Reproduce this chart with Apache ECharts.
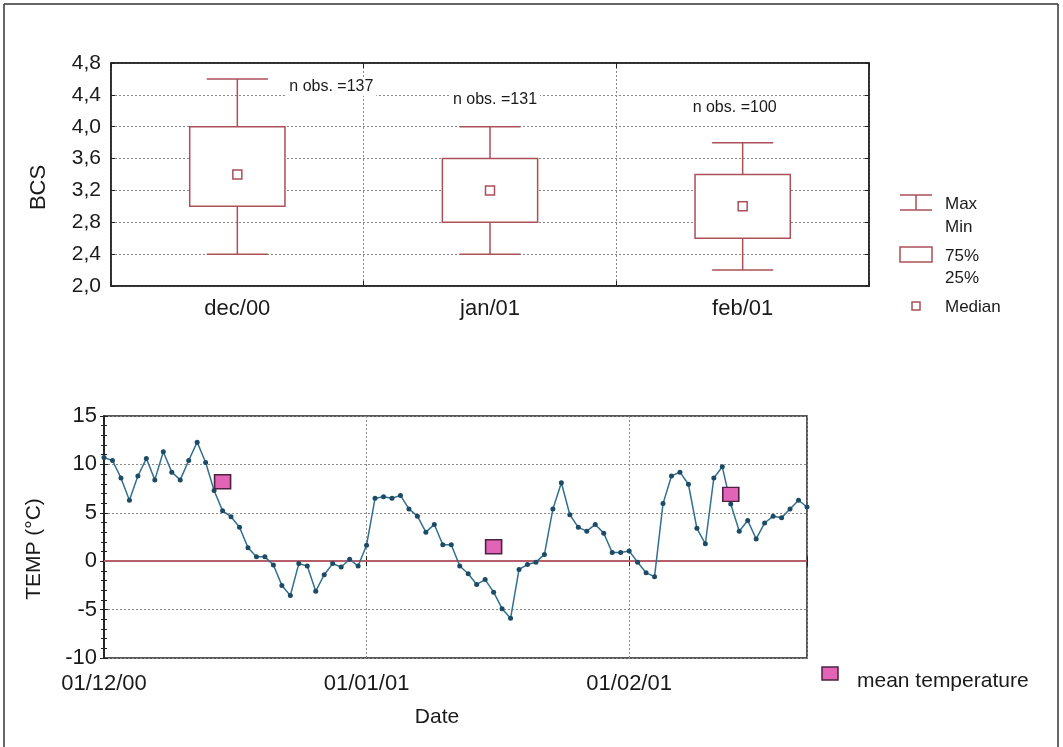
<!DOCTYPE html>
<html><head><meta charset="utf-8">
<script src="https://cdn.jsdelivr.net/npm/echarts@6/dist/echarts.min.js"></script>
<style>html,body{margin:0;padding:0;background:#fff}#chart{width:1063px;height:747px}</style>
</head><body><div id="chart"></div>
<script>
// ---------- data ----------
const monthCategories = ['dec/00', 'jan/01', 'feb/01'];
const bcsMin    = [2.4, 2.4, 2.2];
const bcsQ1     = [3.0, 2.8, 2.6];
const bcsMedian = [3.4, 3.2, 3.0];
const bcsQ3     = [4.0, 3.6, 3.4];
const bcsMax    = [4.6, 4.0, 3.8];
const nObs      = [137, 131, 100];

const dateTickLabels = ['01/12/00', '01/01/01', '01/02/01'];
// daily temperature, day 0 = 01/12/00 ... day 83 = 22/02/01
const dailyTemp = [
  10.7, 10.4, 8.6, 6.3, 8.8, 10.6, 8.4, 11.3, 9.2, 8.4,
  10.4, 12.3, 10.2, 7.3, 5.2, 4.6, 3.5, 1.4, 0.45, 0.45,
  -0.4, -2.5, -3.55, -0.25, -0.5, -3.1, -1.4, -0.25, -0.6, 0.2,
  -0.5, 1.65, 6.5, 6.65, 6.5, 6.8, 5.4, 4.65, 3.0, 3.8,
  1.7, 1.7, -0.5, -1.3, -2.4, -1.9, -3.2, -4.9, -5.9, -0.85,
  -0.35, -0.1, 0.7, 5.4, 8.1, 4.8, 3.5, 3.1, 3.8, 2.9,
  0.9, 0.9, 1.05, -0.1, -1.2, -1.6, 5.95, 8.8, 9.2, 7.95,
  3.4, 1.8, 8.6, 9.75, 5.9, 3.1, 4.2, 2.3, 3.95, 4.65,
  4.5, 5.4, 6.3, 5.6
];
const meanTempDay = [14, 46, 74];
const meanTemp    = [8.2, 1.5, 6.9];

// ---------- styles ----------
const FONT = "'Liberation Sans', Arial, sans-serif";
const BOX_COLOR = '#ab4f59';
const LINE_COLOR = '#33708e';
const DOT_COLOR = '#1d4b66';
const PINK = '#e264b6';
const PINK_BORDER = '#4d2240';
const GRID_LINE = {show: true, lineStyle: {color: '#8a8a8a', type: [2, 2], width: 1}};
const AXIS_LINE = {show: true, lineStyle: {color: '#222', width: 1.5}};
const nObsLabelPlace = [{dx: 94, v: 4.5}, {dx: 5, v: 4.34}, {dx: -8, v: 4.24}];

const chart = echarts.init(document.getElementById('chart'), null, {renderer: 'canvas'});

function renderBox(params, api) {
  const i = api.value(0);
  const band = api.size([1, 0])[0];
  const xc = api.coord([i, api.value(3)])[0];
  const yMin = api.coord([i, api.value(1)])[1];
  const yQ1 = api.coord([i, api.value(2)])[1];
  const yMed = api.coord([i, api.value(3)])[1];
  const yQ3 = api.coord([i, api.value(4)])[1];
  const yMax = api.coord([i, api.value(5)])[1];
  const boxW = band * 0.377;
  const capW = band * 0.242;
  const st = {stroke: BOX_COLOR, lineWidth: 1.5, fill: null};
  const lp = nObsLabelPlace[i];
  const ly = api.coord([i, lp.v])[1];
  return {
    type: 'group',
    children: [
      {type: 'line', shape: {x1: xc, y1: yMax, x2: xc, y2: yQ3}, style: st},
      {type: 'line', shape: {x1: xc, y1: yQ1, x2: xc, y2: yMin}, style: st},
      {type: 'line', shape: {x1: xc - capW / 2, y1: yMax, x2: xc + capW / 2, y2: yMax}, style: st},
      {type: 'line', shape: {x1: xc - capW / 2, y1: yMin, x2: xc + capW / 2, y2: yMin}, style: st},
      {type: 'rect', shape: {x: xc - boxW / 2, y: yQ3, width: boxW, height: yQ1 - yQ3},
        style: {stroke: BOX_COLOR, lineWidth: 1.5, fill: '#fff'}},
      {type: 'rect', shape: {x: xc - 4.5, y: yMed - 4.5, width: 9, height: 9},
        style: {stroke: BOX_COLOR, lineWidth: 1.5, fill: '#fff'}},
      {type: 'text', x: xc + lp.dx, y: ly,
        style: {text: 'n obs. =' + nObs[i], fill: '#1a1a1a', font: '16px ' + FONT,
          align: 'center', verticalAlign: 'middle', textAlign: 'center', textVerticalAlign: 'middle',
          backgroundColor: '#fff', padding: [1, 3, 1, 3]}}
    ]
  };
}

const legendTextStyle = (t, x, y, size) => ({
  type: 'text', x: x, y: y,
  style: {text: t, fill: '#1a1a1a', font: size + 'px ' + FONT,
    align: 'left', verticalAlign: 'middle', textAlign: 'left', textVerticalAlign: 'middle'}
});

const option = {
  backgroundColor: '#fff',
  animation: false,
  textStyle: {fontFamily: FONT},
  grid: [
    {left: 111, top: 63, width: 758, height: 223, show: true, borderColor: '#222', borderWidth: 1.5, backgroundColor: 'transparent'},
    {left: 104, top: 416, width: 703, height: 242, show: true, borderColor: '#222', borderWidth: 1.5, backgroundColor: 'transparent'}
  ],
  xAxis: [
    {type: 'category', gridIndex: 0, data: monthCategories, boundaryGap: true,
      axisLine: AXIS_LINE, axisTick: {show: true, inside: true, length: 5, lineStyle: {color: '#222'}},
      axisLabel: {fontSize: 22, color: '#1a1a1a', margin: 12, fontFamily: FONT},
      splitLine: GRID_LINE},
    {type: 'category', gridIndex: 0, position: 'top', data: monthCategories, boundaryGap: true,
      axisLine: AXIS_LINE, axisTick: {show: true, inside: true, length: 5, lineStyle: {color: '#222'}},
      axisLabel: {show: false}, splitLine: {show: false}},
    {type: 'value', gridIndex: 1, min: 0, max: 83, interval: 31,
      axisLine: AXIS_LINE, axisTick: {show: true, inside: true, length: 5, lineStyle: {color: '#222'}},
      axisLabel: {fontSize: 22, color: '#1a1a1a', margin: 15, fontFamily: FONT,
        formatter: v => (v % 31 === 0 && dateTickLabels[v / 31]) ? dateTickLabels[v / 31] : ''},
      splitLine: GRID_LINE},
    {type: 'value', gridIndex: 1, position: 'top', min: 0, max: 83, interval: 31,
      axisLine: AXIS_LINE, axisTick: {show: true, inside: true, length: 5, lineStyle: {color: '#222'}},
      axisLabel: {show: false}, splitLine: {show: false}}
  ],
  yAxis: [
    {type: 'value', gridIndex: 0, min: 2.0, max: 4.8, interval: 0.4,
      name: 'BCS', nameLocation: 'middle', nameGap: 61,
      nameTextStyle: {fontSize: 22, color: '#1a1a1a', fontFamily: FONT, padding: [0, 26, 0, 0]},
      axisLine: AXIS_LINE, axisTick: {show: true, inside: true, length: 4, lineStyle: {color: '#222'}},
      axisLabel: {fontSize: 21, color: '#1a1a1a', margin: 10, fontFamily: FONT,
        formatter: v => v.toFixed(1).replace('.', ',')},
      splitLine: GRID_LINE},
    {type: 'value', gridIndex: 0, position: 'right', min: 2.0, max: 4.8, interval: 0.4,
      axisLine: AXIS_LINE, axisTick: {show: true, inside: true, length: 4, lineStyle: {color: '#222'}},
      axisLabel: {show: false}, splitLine: {show: false}},
    {type: 'value', gridIndex: 1, min: -10, max: 15, interval: 5,
      name: 'TEMP (°C)', nameLocation: 'middle', nameGap: 59,
      nameTextStyle: {fontSize: 21, color: '#1a1a1a', fontFamily: FONT, padding: [0, 24, 0, 0]},
      axisLine: AXIS_LINE, axisTick: {show: true, inside: false, length: 4, lineStyle: {color: '#222'}},
      minorTick: {show: true, splitNumber: 5, length: 3, lineStyle: {color: '#222'}},
      axisLabel: {fontSize: 22, color: '#1a1a1a', margin: 7, fontFamily: FONT},
      splitLine: GRID_LINE},
    {type: 'value', gridIndex: 1, position: 'right', min: -10, max: 15, interval: 5,
      axisLine: AXIS_LINE, axisTick: {show: true, inside: false, length: 4, lineStyle: {color: '#222'}},
      minorTick: {show: true, splitNumber: 5, length: 3, lineStyle: {color: '#222'}},
      axisLabel: {show: false}, splitLine: {show: false}}
  ],
  series: [
    {type: 'custom', name: 'BCS', xAxisIndex: 0, yAxisIndex: 0,
      renderItem: renderBox,
      encode: {x: 0, y: [1, 2, 3, 4, 5]},
      data: monthCategories.map((c, i) => [i, bcsMin[i], bcsQ1[i], bcsMedian[i], bcsQ3[i], bcsMax[i]]),
      z: 5},
    {type: 'line', name: 'TEMP', xAxisIndex: 2, yAxisIndex: 2,
      data: dailyTemp.map((v, i) => [i, v]),
      showSymbol: true, symbol: 'circle', symbolSize: 5,
      lineStyle: {color: LINE_COLOR, width: 1.5},
      itemStyle: {color: DOT_COLOR},
      markLine: {silent: true, symbol: ['none', 'none'], label: {show: false},
        lineStyle: {color: '#e2707e', width: 1.5, type: 'solid', opacity: 1},
        data: [{yAxis: 0}], z: 2},
      z: 3},
    {type: 'scatter', name: 'mean temperature', xAxisIndex: 2, yAxisIndex: 2,
      data: meanTempDay.map((d, i) => [d, meanTemp[i]]),
      symbol: 'rect', symbolSize: [16, 14],
      itemStyle: {color: PINK, borderColor: PINK_BORDER, borderWidth: 1.5, opacity: 1},
      z: 6}
  ],
  graphic: [
    // outer frame
    {type: 'line', shape: {x1: 4, y1: 4, x2: 1058, y2: 4}, style: {stroke: '#333', lineWidth: 1.5}},
    {type: 'line', shape: {x1: 4, y1: 4, x2: 4, y2: 747}, style: {stroke: '#333', lineWidth: 1.5}},
    {type: 'line', shape: {x1: 1058, y1: 4, x2: 1058, y2: 747}, style: {stroke: '#333', lineWidth: 1.5}},
    // box plot legend
    {type: 'line', shape: {x1: 900, y1: 195, x2: 932, y2: 195}, style: {stroke: BOX_COLOR, lineWidth: 1.5}},
    {type: 'line', shape: {x1: 900, y1: 210, x2: 932, y2: 210}, style: {stroke: BOX_COLOR, lineWidth: 1.5}},
    {type: 'line', shape: {x1: 916, y1: 195, x2: 916, y2: 210}, style: {stroke: BOX_COLOR, lineWidth: 1.5}},
    {type: 'rect', shape: {x: 900, y: 247, width: 32, height: 15}, style: {stroke: BOX_COLOR, lineWidth: 1.5, fill: '#fff'}},
    {type: 'rect', shape: {x: 912, y: 302, width: 8, height: 8}, style: {stroke: BOX_COLOR, lineWidth: 1.5, fill: '#fff'}},
    legendTextStyle('Max', 945, 204, 17),
    legendTextStyle('Min', 945, 227, 17),
    legendTextStyle('75%', 945, 256, 17),
    legendTextStyle('25%', 945, 278, 17),
    legendTextStyle('Median', 945, 307, 17),
    // mean temperature legend
    {type: 'rect', shape: {x: 822, y: 667, width: 16, height: 13}, style: {fill: PINK, stroke: PINK_BORDER, lineWidth: 1.5}},
    legendTextStyle('mean temperature', 857, 681, 21),
    // x axis title
    {type: 'text', x: 437, y: 717,
      style: {text: 'Date', fill: '#1a1a1a', font: '21px ' + FONT,
        align: 'center', verticalAlign: 'middle', textAlign: 'center', textVerticalAlign: 'middle'}}
  ]
};
chart.setOption(option);
</script>
</body></html>
